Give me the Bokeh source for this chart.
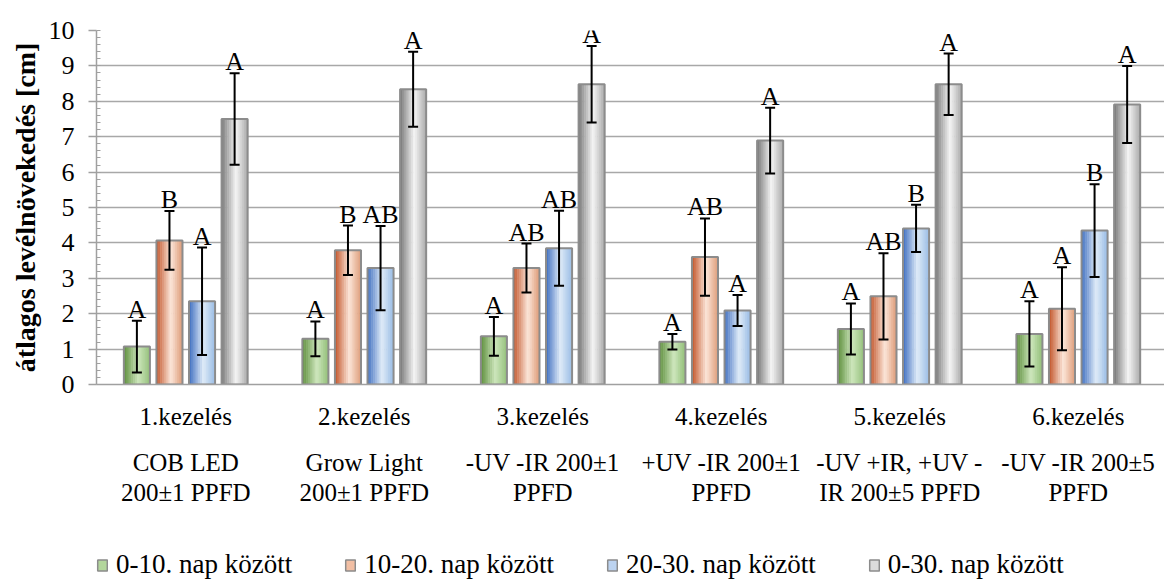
import numpy as np
from bokeh.plotting import figure
from bokeh.layouts import column
from bokeh.models import (Range1d, LinearAxis, FixedTicker, SingleIntervalTicker,
                          ColumnDataSource, Whisker, TeeHead, LabelSet, Legend, LegendItem)
from bokeh.embed import file_html
from bokeh.resources import INLINE

# ---------------- data ----------------
treatments = ["1.kezelés", "2.kezelés", "3.kezelés", "4.kezelés", "5.kezelés", "6.kezelés"]
descriptions = ["COB LED\n200±1 PPFD", "Grow Light\n200±1 PPFD", "-UV -IR 200±1\nPPFD",
                "+UV -IR 200±1\nPPFD", "-UV +IR, +UV -\nIR 200±5 PPFD", "-UV -IR 200±5\nPPFD"]
series_names = ["0-10. nap között", "10-20. nap között", "20-30. nap között", "0-30. nap között"]

means_0_10 = [1.07, 1.29, 1.36, 1.21, 1.57, 1.43]
means_10_20 = [4.07, 3.79, 3.29, 3.60, 2.49, 2.14]
means_20_30 = [2.35, 3.29, 3.85, 2.09, 4.41, 4.35]
means_0_30 = [7.50, 8.34, 8.48, 6.89, 8.48, 7.91]

err_0_10 = [0.73, 0.49, 0.55, 0.22, 0.72, 0.92]
err_10_20 = [0.83, 0.70, 0.69, 1.09, 1.22, 1.17]
err_20_30 = [1.52, 1.19, 1.06, 0.44, 0.67, 1.31]
err_0_30 = [1.29, 1.06, 1.08, 0.93, 0.87, 1.09]

letters_0_10 = ["A", "A", "A", "A", "A", "A"]
letters_10_20 = ["B", "B", "AB", "AB", "AB", "A"]
letters_20_30 = ["A", "AB", "AB", "A", "B", "B"]
letters_0_30 = ["A", "A", "A", "A", "A", "A"]

means = [means_0_10, means_10_20, means_20_30, means_0_30]
errs = [err_0_10, err_10_20, err_20_30, err_0_30]
letters = [letters_0_10, letters_10_20, letters_20_30, letters_0_30]

# ---------------- style ----------------
grad = [("#5e8f3d", "#cde6bc", "#92bf78"),
        ("#c2552a", "#fce6d9", "#dd9a76"),
        ("#3f6fc0", "#dfebf8", "#97bbe4"),
        ("#7a7a7a", "#f5f5f5", "#a9a9a9")]
legend_fill = ["#b3d69c", "#f2bfa4", "#bcd3f0", "#dcdcdc"]
SERIF = "Liberation Serif"
bw = 0.146
step = 0.1825
NS = 14


def hex2rgb(h):
    h = h.lstrip("#")
    return np.array([int(h[i:i + 2], 16) for i in (0, 2, 4)], dtype=float)


def grad_color(stops, t):
    a, b, c = [hex2rgb(s) for s in stops]
    if t < 0.55:
        col = a + (b - a) * (t / 0.55)
    else:
        col = b + (c - b) * ((t - 0.55) / 0.45)
    return "#%02x%02x%02x" % tuple(int(round(v)) for v in col)


p = figure(frame_width=1068, frame_height=354, x_range=Range1d(0, 5.983), y_range=Range1d(0, 10),
           output_backend="svg", toolbar_location=None, x_axis_type=None,
           min_border_left=96, min_border_right=0, min_border_top=30, min_border_bottom=165)
p.outline_line_color = None
p.background_fill_color = "white"
p.border_fill_color = "white"

# y axis
yax = p.yaxis[0]
yax.ticker = SingleIntervalTicker(interval=1, num_minor_ticks=5)
yax.axis_line_color = "#a0a0a0"
yax.axis_line_width = 1.5
yax.major_tick_line_color = "#a0a0a0"
yax.major_tick_line_width = 1.5
yax.major_tick_out = 8
yax.major_tick_in = 0
yax.minor_tick_line_color = "#a0a0a0"
yax.minor_tick_in = 4
yax.minor_tick_out = 0
yax.major_label_text_font = SERIF
yax.major_label_text_font_size = "26px"
yax.major_label_text_color = "black"
yax.major_label_standoff = 14
yax.axis_label = "átlagos levélnövekedés [cm]"
yax.axis_label_text_font = SERIF
yax.axis_label_text_font_size = "28px"
yax.axis_label_text_font_style = "bold"
yax.axis_label_text_color = "black"
yax.axis_label_standoff = 5

p.ygrid.ticker = SingleIntervalTicker(interval=1)
p.ygrid.grid_line_color = "#a8a8a8"
p.ygrid.grid_line_width = 1.5
p.xgrid.visible = False

centers = [i + 0.5 for i in range(len(treatments))]

# x axis 1 : treatment names
ax1 = LinearAxis(ticker=FixedTicker(ticks=centers),
                 major_label_overrides={c: t for c, t in zip(centers, treatments)})
ax1.axis_line_color = "#a0a0a0"
ax1.axis_line_width = 1.5
ax1.major_tick_out = 0
ax1.major_tick_in = 0
ax1.minor_tick_out = 0
ax1.minor_tick_in = 0
ax1.major_label_text_font = SERIF
ax1.major_label_text_font_size = "25px"
ax1.major_label_text_color = "black"
ax1.major_label_standoff = 18
p.add_layout(ax1, "below")

# x axis 2 : descriptions
ax2 = LinearAxis(ticker=FixedTicker(ticks=centers),
                 major_label_overrides={c: t for c, t in zip(centers, descriptions)})
ax2.axis_line_color = None
ax2.major_tick_out = 0
ax2.major_tick_in = 0
ax2.minor_tick_out = 0
ax2.minor_tick_in = 0
ax2.major_label_text_font = SERIF
ax2.major_label_text_font_size = "25px"
ax2.major_label_text_color = "black"
ax2.major_label_text_line_height = 1.14
ax2.major_label_standoff = 16
p.add_layout(ax2, "below")

for s in range(4):
    xs = [c + (s - 1.5) * step for c in centers]
    L, R, T, C = [], [], [], []
    for x, v in zip(xs, means[s]):
        for k in range(NS):
            l = x - bw / 2 + bw * k / NS
            L.append(l)
            R.append(min(l + bw / NS + 0.003, x + bw / 2))
            T.append(v)
            C.append(grad_color(grad[s], (k + 0.5) / NS))
    p.quad(left=L, right=R, top=T, bottom=0, fill_color=C, line_color=None)
    p.vbar(x=xs, top=means[s], width=bw, fill_color=None, line_color="#8c8c8c", line_width=2)

    src = ColumnDataSource(dict(x=xs,
                                upper=[m + e for m, e in zip(means[s], errs[s])],
                                lower=[m - e for m, e in zip(means[s], errs[s])],
                                letter=letters[s]))
    wh = Whisker(source=src, base="x", upper="upper", lower="lower", dimension="height",
                 line_color="black", line_width=2, level="overlay",
                 upper_head=TeeHead(size=10, line_width=2, line_color="black"),
                 lower_head=TeeHead(size=10, line_width=2, line_color="black"))
    p.add_layout(wh)
    lab = LabelSet(source=src, x="x", y="upper", text="letter", text_align="center",
                   text_baseline="alphabetic", y_offset=3, text_font=SERIF,
                   text_font_size="26px", text_color="black", level="overlay")
    p.add_layout(lab)

# ---------------- legend (separate strip below the chart) ----------------
pl = figure(width=1164, height=31, x_range=Range1d(0, 1), y_range=Range1d(0, 1),
            output_backend="svg", toolbar_location=None, x_axis_type=None, y_axis_type=None,
            min_border=0)
pl.outline_line_color = None
pl.xgrid.visible = False
pl.ygrid.visible = False
legend_items = []
for s in range(4):
    # placeholder glyph kept outside the visible range: only its legend swatch shows
    dummy = pl.quad(left=[5], right=[6], top=[6], bottom=[5], fill_color=legend_fill[s],
                    line_color="#8c8c8c", line_width=1.5)
    legend_items.append(LegendItem(label=series_names[s], renderers=[dummy]))
legend = Legend(items=legend_items, orientation="horizontal", location=(0, 0),
                label_text_font=SERIF, label_text_font_size="27px", label_text_color="black",
                glyph_width=12, glyph_height=14, label_standoff=8, spacing=52,
                border_line_color=None, background_fill_alpha=0, padding=0, margin=0)
pl.add_layout(legend)

layout = column(p, pl, spacing=0)
open("out.html", "w").write(file_html(layout, INLINE))
